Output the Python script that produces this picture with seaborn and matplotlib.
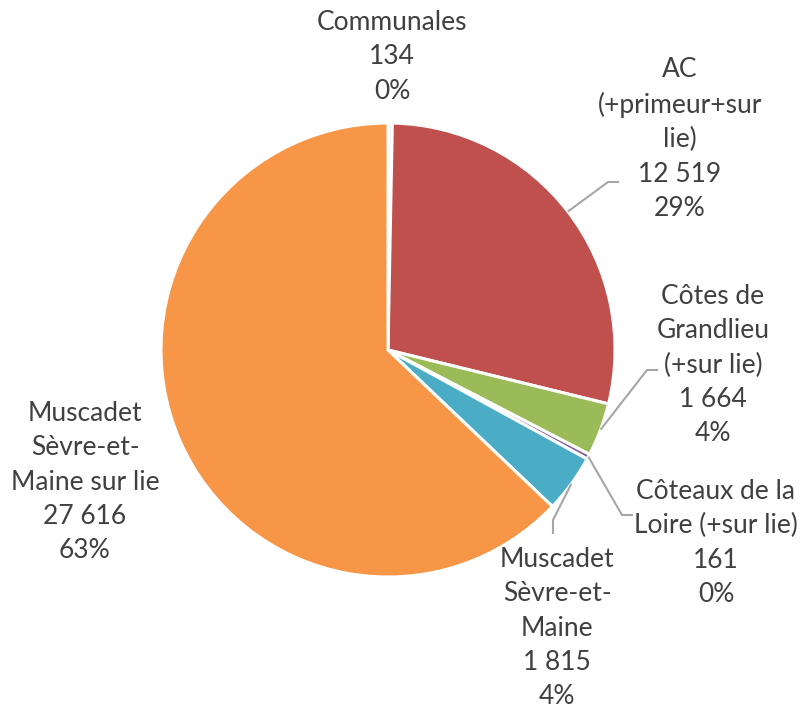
import matplotlib.pyplot as plt
import numpy as np
import pandas as pd
import seaborn as sns

# Data
names = ['Communales', 'AC\n(+primeur+sur\nlie)', 'Côtes de\nGrandlieu\n(+sur lie)',
         'Côteaux de la\nLoire (+sur lie)', 'Muscadet\nSèvre-et-\nMaine',
         'Muscadet\nSèvre-et-\nMaine sur lie']
values = [134, 12519, 1664, 161, 1815, 27616]
colors = ['#dce6f2', '#c0504d', '#9bbb59', '#8064a2', '#4bacc6', '#f79646']

df = pd.DataFrame({'name': names, 'value': values})
total = df['value'].sum()
df['label'] = [f"{n}\n{v:,}".replace(',', ' ') + f"\n{round(100 * v / total)}%"
               for n, v in zip(df['name'], df['value'])]

sns.set_theme(style='white')
plt.rcParams['font.family'] = ['Lato', 'DejaVu Sans']

W, H = 808, 714
cx, cy, R = 388, 350, 227   # pie centre / radius in pixels

fig = plt.figure(figsize=(W / 100, H / 100), dpi=100)
ax = fig.add_axes([0, 0, 1, 1])
wedges, _ = ax.pie(df['value'], colors=sns.color_palette(colors), startangle=90,
                   counterclock=False, radius=1,
                   wedgeprops=dict(edgecolor='white', linewidth=2.2))
ax.set_xlim(-cx / R, (W - cx) / R)
ax.set_ylim(-(H - cy) / R, cy / R)
ax.set_aspect('equal')
ax.axis('off')


def px(x, y):
    return (x - cx) / R, (cy - y) / R


# label centres and leader-line elbows (pixels)
label_pos = [(392, 57), (680, 139), (713, 365), (716, 543), (557, 628), (85, 482)]
leaders = [None, [(608, 182), (619, 182)], [(647, 370), (658, 370)],
           [(622, 515), (633, 515)], [(553, 520), (553, 534)], None]

for w, lab, pos, lead in zip(wedges, df['label'], label_pos, leaders):
    ax.text(*px(*pos), lab, ha='center', va='center', fontsize=19,
            color='#404040', linespacing=1.47)
    if lead:
        ang = np.deg2rad((w.theta1 + w.theta2) / 2)
        pts = [(np.cos(ang), np.sin(ang))] + [px(*p) for p in lead]
        xs, ys = zip(*pts)
        ax.plot(xs, ys, color='#a6a6a6', lw=1.5, solid_capstyle='butt')

fig.savefig('out.png', dpi=100)
